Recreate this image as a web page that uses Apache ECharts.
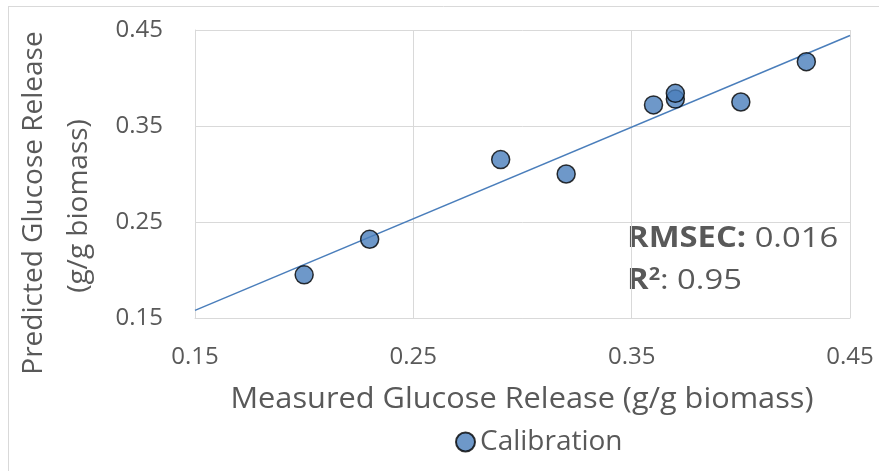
<!DOCTYPE html>
<html>
<head>
<meta charset="utf-8">
<script src="https://cdn.jsdelivr.net/npm/echarts@6/dist/echarts.min.js"></script>
<style>
  html, body { margin: 0; padding: 0; background: #fff; }
  #chart { width: 879px; height: 471px; }
</style>
</head>
<body>
<div id="chart"></div>
<script>
// Calibration set: measured vs predicted glucose release (g/g biomass)
const measured  = [0.20, 0.23, 0.29, 0.32, 0.36, 0.37, 0.37, 0.40, 0.43];
const predicted = [0.195, 0.232, 0.315, 0.300, 0.372, 0.378, 0.384, 0.375, 0.417];
const axisTicks = [0.15, 0.25, 0.35, 0.45];
const seriesName = 'Calibration';
const statRmsec = '0.016';
const statR2 = '0.95';

// Least-squares fit line through the calibration points
function linearFit(xs, ys) {
  const n = xs.length;
  const mx = xs.reduce((a, b) => a + b, 0) / n;
  const my = ys.reduce((a, b) => a + b, 0) / n;
  let sxy = 0, sxx = 0;
  for (let i = 0; i < n; i++) {
    sxy += (xs[i] - mx) * (ys[i] - my);
    sxx += (xs[i] - mx) * (xs[i] - mx);
  }
  const slope = sxy / sxx;
  return { slope, intercept: my - slope * mx };
}
const fit = linearFit(measured, predicted);
const lo = axisTicks[0], hi = axisTicks[axisTicks.length - 1];
const fitLine = [[lo, fit.intercept + fit.slope * lo], [hi, fit.intercept + fit.slope * hi]];

const points = measured.map((x, i) => [x, predicted[i]]);

const FONT = '"Open Sans", sans-serif';
const GREY = '#595959';
const GRID = '#d9d9d9';
const BLUE = '#4a7ebb';

const chart = echarts.init(document.getElementById('chart'), null, { renderer: 'canvas' });

const valueAxis = {
  type: 'value',
  min: lo,
  max: hi,
  interval: axisTicks[1] - axisTicks[0],
  axisLine: { show: true, lineStyle: { color: GRID, width: 1 } },
  axisTick: { show: false },
  splitLine: { show: true, lineStyle: { color: GRID, width: 1 } },
  axisLabel: {
    color: GREY,
    fontFamily: FONT,
    fontSize: 24,
    formatter: v => v.toFixed(2)
  }
};

chart.setOption({
  animation: false,
  backgroundColor: '#fff',
  grid: { left: 195, right: 29, top: 30, bottom: 153 },
  xAxis: Object.assign({}, valueAxis, {
    axisLabel: Object.assign({}, valueAxis.axisLabel, { margin: 27 })
  }),
  yAxis: Object.assign({}, valueAxis, {
    axisLabel: Object.assign({}, valueAxis.axisLabel, { margin: 32 })
  }),
  legend: {
    data: [{ name: seriesName, icon: 'circle' }],
    left: 450,
    top: 423,
    itemWidth: 19,
    itemHeight: 19,
    textStyle: { color: GREY, fontFamily: FONT, fontSize: 28 }
  },
  series: [
    {
      name: 'fit',
      type: 'line',
      data: fitLine,
      symbol: 'none',
      lineStyle: { color: BLUE, width: 1.5 },
      z: 2,
      silent: true
    },
    {
      name: seriesName,
      type: 'scatter',
      data: points,
      symbol: 'circle',
      symbolSize: 18,
      itemStyle: { color: BLUE, borderColor: '#000', borderWidth: 1.5 },
      z: 3
    }
  ],
  graphic: [
    // chart frame edges
    { type: 'line', shape: { x1: 8.5, y1: 6, x2: 8.5, y2: 471 }, style: { stroke: GRID, lineWidth: 1 } },
    { type: 'line', shape: { x1: 8, y1: 6.5, x2: 879, y2: 6.5 }, style: { stroke: GRID, lineWidth: 1 } },
    // y-axis title (two lines)
    {
      type: 'text', x: 34, y: 203, rotation: Math.PI / 2,
      style: { text: 'Predicted Glucose Release', fill: GREY, font: '28px ' + FONT, align: 'center', verticalAlign: 'middle' }
    },
    {
      type: 'text', x: 79, y: 206, rotation: Math.PI / 2,
      style: { text: '(g/g biomass)', fill: GREY, font: '28px ' + FONT, align: 'center', verticalAlign: 'middle' }
    },
    // x-axis title
    {
      type: 'text', x: 522, y: 400, scaleX: 1.06,
      style: { text: 'Measured Glucose Release (g/g biomass)', fill: GREY, font: '29px ' + FONT, align: 'center', verticalAlign: 'middle' }
    },
    // fit statistics
    {
      type: 'text', x: 627, y: 239, scaleX: 1.17,
      style: {
        text: '{b|RMSEC:} ' + statRmsec,
        fill: GREY, font: '28px ' + FONT, verticalAlign: 'middle',
        rich: { b: { fontWeight: 'bold', fontSize: 28, fontFamily: FONT, fill: GREY } }
      }
    },
    {
      type: 'text', x: 627, y: 281, scaleX: 1.17,
      style: {
        text: '{b|R}{s|2}: ' + statR2,
        fill: GREY, font: '28px ' + FONT, verticalAlign: 'middle',
        rich: {
          b: { fontWeight: 'bold', fontSize: 28, fontFamily: FONT, fill: GREY },
          s: { fontWeight: 'bold', fontSize: 17, fontFamily: FONT, fill: GREY, verticalAlign: 'top', padding: [0, 0, 10, 0] }
        }
      }
    }
  ]
});
</script>
</body>
</html>
